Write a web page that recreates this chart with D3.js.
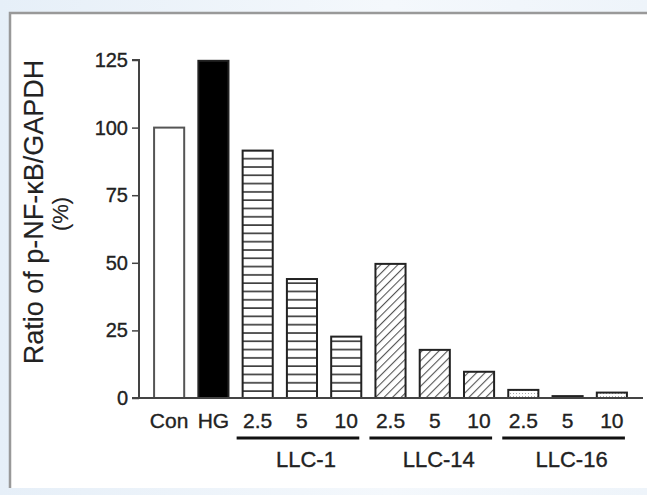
<!DOCTYPE html>
<html>
<head>
<meta charset="utf-8">
<script src="https://cdn.jsdelivr.net/npm/d3@7"></script>
<style>
  html, body { margin: 0; padding: 0; }
  body { width: 647px; height: 495px; overflow: hidden;
         background: linear-gradient(90deg, #e6eff8 0%, #f4f8fc 60%, #eef4fa 100%); }
  svg { display: block; }
  text { font-family: Arial, "Liberation Sans", sans-serif; fill: #222; stroke: #222; stroke-width: 0.35px; }
</style>
</head>
<body>
<div id="chart"></div>
<script>
// chart data
var labels = ["Con", "HG", "2.5", "5", "10", "2.5", "5", "10", "2.5", "5", "10"];
var values = [100, 124.7, 91.5, 44, 22.7, 49.6, 17.8, 9.7, 3, 0.7, 2];
var fills = ["open", "solid", "horiz", "horiz", "horiz", "diag", "diag", "diag", "dots", "dots", "dots"];
var groups = [
    {name: "LLC-1", from: 2, to: 4},
    {name: "LLC-14", from: 5, to: 7},
    {name: "LLC-16", from: 8, to: 10}
];
var yTicks = [0, 25, 50, 75, 100, 125];

var width = 647, height = 495;

var svg = d3.select("#chart").append("svg")
        .attr("width", width)
        .attr("height", height);

// white panel with grey frame (left and top only visible)
svg.append("rect")
        .attr("x", 10).attr("y", 13)
        .attr("width", width).attr("height", 475)
        .attr("fill", "#fff");
svg.append("path")
        .attr("d", "M10,488V13H" + width)
        .attr("fill", "none")
        .attr("stroke", "#999")
        .attr("stroke-width", 2.5);

// fill patterns
var defs = svg.append("defs");
var ph = defs.append("pattern").attr("id", "horiz")
        .attr("patternUnits", "userSpaceOnUse")
        .attr("width", 8).attr("height", 8.3);
ph.append("rect").attr("width", 8).attr("height", 8.3).attr("fill", "#fff");
ph.append("line").attr("x1", 0).attr("x2", 8).attr("y1", 1).attr("y2", 1)
        .attr("stroke", "#333").attr("stroke-width", 1.6);

var pd = defs.append("pattern").attr("id", "diag")
        .attr("patternUnits", "userSpaceOnUse")
        .attr("width", 6).attr("height", 6)
        .attr("patternTransform", "rotate(45)");
pd.append("rect").attr("width", 6).attr("height", 6).attr("fill", "#fff");
pd.append("line").attr("x1", 0).attr("x2", 0).attr("y1", 0).attr("y2", 6)
        .attr("stroke", "#555").attr("stroke-width", 2.2);

var pt = defs.append("pattern").attr("id", "dots")
        .attr("patternUnits", "userSpaceOnUse")
        .attr("width", 3).attr("height", 3);
pt.append("rect").attr("width", 3).attr("height", 3).attr("fill", "#fff");
pt.append("rect").attr("width", 1).attr("height", 1).attr("fill", "#aaa");

// scales
var x = d3.scaleBand()
        .domain(d3.range(labels.length))
        .range([147, 634])
        .paddingInner(0.32)
        .paddingOuter(0.16);

var y = d3.scaleLinear()
        .domain([0, 125])
        .range([398, 60]);

// bars
svg.append("g").selectAll("rect")
        .data(values)
        .enter().append("rect")
        .attr("x", function (d, i) { return x(i); })
        .attr("y", function (d) { return y(d); })
        .attr("width", x.bandwidth())
        .attr("height", function (d) { return y(0) - y(d); })
        .attr("fill", function (d, i) {
            if (fills[i] === "open") return "#fff";
            if (fills[i] === "solid") return "#000";
            return "url(#" + fills[i] + ")";
        })
        .attr("stroke", function (d, i) { return fills[i] === "open" ? "#555" : "#222"; })
        .attr("stroke-width", 2);

// y axis
var yAxis = d3.axisLeft(y).tickValues(yTicks).tickSize(7).tickPadding(4);
var gy = svg.append("g")
        .attr("transform", "translate(139,0)")
        .call(yAxis);
gy.attr("font-size", 20).attr("font-family", "Arial, 'Liberation Sans', sans-serif");
gy.select(".domain").attr("stroke", "#444").attr("stroke-width", 2)
        .attr("d", "M-7," + y(125) + "H0V" + y(0) + "H-7");
gy.selectAll(".tick line").attr("stroke", "#444").attr("stroke-width", 1.5);
gy.selectAll(".tick text").attr("fill", "#222");

// x axis baseline
svg.append("line")
        .attr("x1", 132).attr("x2", 643)
        .attr("y1", y(0)).attr("y2", y(0))
        .attr("stroke", "#444").attr("stroke-width", 2);

// category labels
svg.append("g").selectAll("text")
        .data(labels)
        .enter().append("text")
        .attr("x", function (d, i) { return x(i) + x.bandwidth() / 2; })
        .attr("y", 428)
        .attr("text-anchor", "middle")
        .attr("font-size", 21)
        .text(function (d) { return d; });

// group underlines and names
var gg = svg.append("g").selectAll("g")
        .data(groups)
        .enter().append("g");
gg.append("line")
        .attr("x1", function (d) { return x(d.from) - 6; })
        .attr("x2", function (d) { return x(d.to) + x.bandwidth() - 2; })
        .attr("y1", 438).attr("y2", 438)
        .attr("stroke", "#111").attr("stroke-width", 3);
gg.append("text")
        .attr("x", function (d) { return (x(d.from) + x(d.to) + x.bandwidth()) / 2 + 4; })
        .attr("y", 467)
        .attr("text-anchor", "middle")
        .attr("font-size", 22)
        .text(function (d) { return d.name; });

// y axis title
svg.append("text")
        .attr("transform", "translate(43,212) rotate(-90)")
        .attr("text-anchor", "middle")
        .attr("font-size", 27)
        .attr("fill", "#333")
        .style("stroke-width", "0.15px")
        .text("Ratio of p-NF-\u03baB/GAPDH");
svg.append("text")
        .attr("transform", "translate(68,214) rotate(-90)")
        .attr("text-anchor", "middle")
        .attr("font-size", 22)
        .attr("fill", "#333")
        .style("stroke-width", "0.15px")
        .text("(%)");
</script>
</body>
</html>
